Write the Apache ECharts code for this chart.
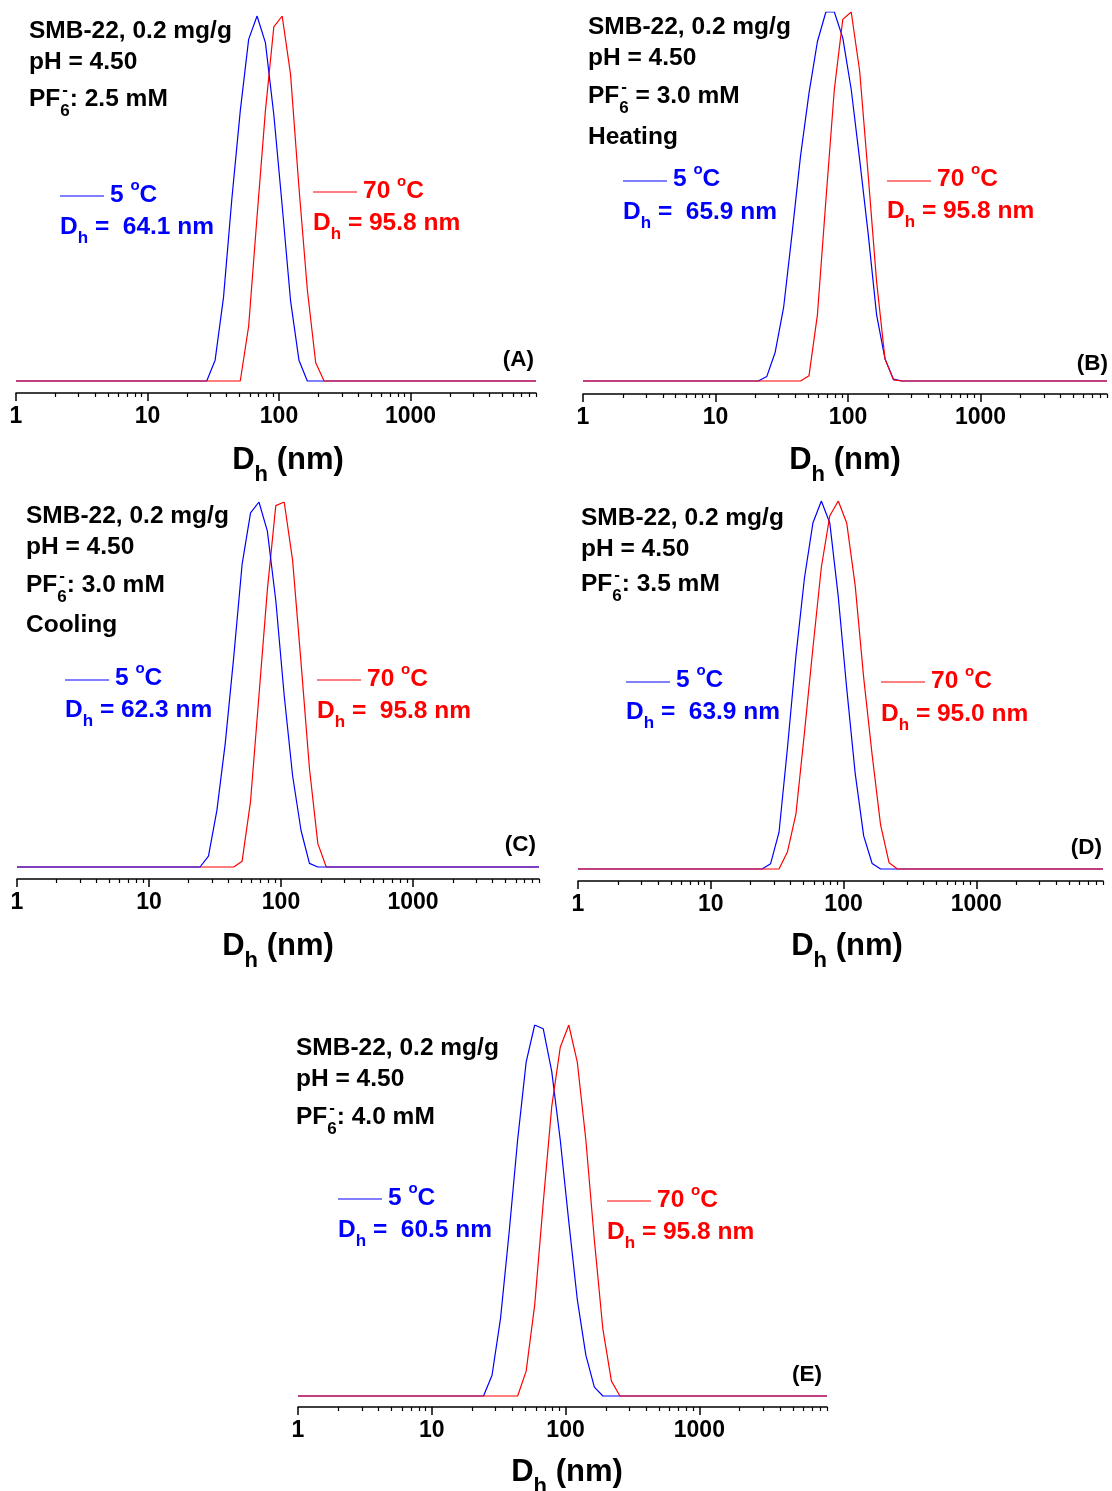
<!DOCTYPE html>
<html><head><meta charset="utf-8">
<script src="https://cdn.jsdelivr.net/npm/echarts@6/dist/echarts.min.js"></script>
<style>html,body{margin:0;padding:0;background:#fff;} #chart{width:1112px;height:1491px;}</style>
</head><body><div id="chart"></div>
<script>
// ---------- DATA ----------
// DLS size bins (nm) shared by all curves
const sizeBins = [21.04, 24.36, 28.21, 32.67, 37.84, 43.82, 50.75, 58.77, 68.06, 78.82, 91.28, 105.7, 122.4, 141.8, 164.2, 190.1, 220.2, 255.0];
const xMin = 1, xMax = 9000;
// relative intensity (% of peak)
const blueA = [0, 0, 0, 5.7, 22.9, 50, 74, 93.6, 100, 92.7, 73, 48, 22, 5.7, 0, 0, 0, 0];
const redA  = [0, 0, 0, 0, 0, 0, 0, 15, 45, 74, 97, 100, 84, 53, 25, 5, 0, 0];
const blueB = [0, 1.2, 7.8, 20, 40, 61, 78, 92, 100, 100, 93, 79, 60, 40, 18, 6, 0.5, 0];
const redB  = [0, 0, 0, 0, 0, 0, 1.4, 18, 49, 79, 98, 100, 84, 56, 27, 6, 0.3, 0];
const blueC = [0, 0, 3, 15.5, 34, 57.5, 83, 97, 100, 92, 73, 47, 25, 10, 1, 0, 0, 0];
const redC  = [0, 0, 0, 0, 0, 0, 1.6, 18, 47, 76, 99, 100, 84, 56, 27, 6.4, 0, 0];
const blueD = [0, 0, 1.4, 10, 33, 58, 79, 94, 100, 94, 74, 49, 26, 9, 1.5, 0, 0, 0];
const redD  = [0, 0, 0, 0, 4.7, 15, 37, 60, 82, 96, 100, 94, 77, 52, 31, 12, 1.7, 0];
const blueE = [0, 0, 5.6, 21, 44, 69, 90, 100, 99, 87.5, 69, 47, 26, 11, 2.4, 0, 0, 0];
const redE  = [0, 0, 0, 0, 0, 0, 6.7, 24.5, 52, 78, 94, 100, 90, 69, 42, 18, 4, 0];
const tickMajor = [1, 10, 100, 1000];
const tickMinor = [2,3,4,5,6,7,8,9,20,30,40,50,60,70,80,90,200,300,400,500,600,700,800,900,2000,3000,4000,5000,6000,7000,8000,9000];
const panelLetters = ['(A)', '(B)', '(C)', '(D)', '(E)'];
const pfValues = [': 2.5 mM', ' = 3.0 mM', ': 3.0 mM', ': 3.5 mM', ': 4.0 mM'];
const modeNotes = ['', 'Heating', 'Cooling', '', ''];
const blueDh = [' =  64.1 nm', ' =  65.9 nm', ' = 62.3 nm', ' =  63.9 nm', ' =  60.5 nm'];
const redDh  = [' = 95.8 nm', ' = 95.8 nm', ' =  95.8 nm', ' = 95.0 nm', ' = 95.8 nm'];
const blueSeries = [blueA, blueB, blueC, blueD, blueE];
const redSeries = [redA, redB, redC, redD, redE];

// ---------- LAYOUT ----------
const FONT = '"Liberation Sans", Arial, Helvetica, sans-serif';
const BLUE = '#0000ff', RED = '#ff0000';
const panels = [
  {left:16, width:520, top:16, axisY:393, base:381, tx:29, ty:[31,62,99], bx:60, bl:196, bt:195, bd:227, rx:313, rl:192, rt:191, rd:223, lr:534, ly:360, cx:288, cy:460, redTop:true},
  {left:583, width:524, top:12, axisY:394, base:381, tx:588, ty:[27,58,96,137], bx:623, bl:181, bt:179, bd:212, rx:887, rl:181, rt:179, rd:211, lr:1108, ly:364, cx:845, cy:460, redTop:true},
  {left:17, width:522, top:502, axisY:879, base:867, tx:26, ty:[516,547,585,625], bx:65, bl:680, bt:678, bd:710, rx:317, rl:680, rt:679, rd:711, lr:536, ly:845, cx:278, cy:946, redTop:false},
  {left:578, width:525, top:501, axisY:881, base:869, tx:581, ty:[518,549,584], bx:626, bl:682, bt:680, bd:712, rx:881, rl:682, rt:681, rd:714, lr:1102, ly:848, cx:847, cy:946, redTop:true},
  {left:298, width:529, top:1025, axisY:1407, base:1396, tx:296, ty:[1048,1079,1117], bx:338, bl:1199, bt:1198, bd:1230, rx:607, rl:1201, rt:1200, rd:1232, lr:822, ly:1375, cx:567, cy:1472, redTop:true}
];

// ---------- TEXT HELPERS ----------
const mctx = document.createElement('canvas').getContext('2d');
function measure(t, size){ mctx.font = 'bold ' + size + 'px ' + FONT; return mctx.measureText(t).width; }
function txt(t, x, y, size, color, align){
  return {type:'text', x:x, y:y, silent:true, z:100,
    style:{text:t, fill:color, fontSize:size, fontWeight:'bold', fontFamily:FONT, verticalAlign:'middle', align:align||'left'}};
}
// parts: [text, kind]; kind: 'n' | 'sub' | 'sup' | 'subsup' (text = [sub, sup])
function rich(parts, x, y, color, size, center){
  const subS = Math.round(size*0.7), supS = Math.round(size*0.62);
  const widths = parts.map(p => {
    if (p[1] === 'n') return measure(p[0], size);
    if (p[1] === 'sub') return measure(p[0], subS);
    if (p[1] === 'sup') return measure(p[0], supS);
    return Math.max(measure(p[0][0], subS), measure(p[0][1], subS));
  });
  const total = widths.reduce((a,b)=>a+b, 0);
  let cx = center ? x - total/2 : x;
  const out = [];
  parts.forEach((p, i) => {
    if (p[1] === 'n') out.push(txt(p[0], cx, y, size, color));
    else if (p[1] === 'sub') out.push(txt(p[0], cx, y + size*0.47, subS, color));
    else if (p[1] === 'sup') out.push(txt(p[0], cx, y - size*0.36, supS, color));
    else { out.push(txt(p[0][0], cx, y + size*0.5, subS, color)); out.push(txt(p[0][1], cx + 2, y - size*0.36, subS, color)); }
    cx += widths[i];
  });
  return out;
}
function seg(x1, x2, y, color){
  return {type:'line', silent:true, z:100, shape:{x1:x1, y1:y, x2:x2, y2:y}, style:{stroke:color, lineWidth:1.2}};
}

// ---------- BUILD ----------
function pts(vals){ return [[xMin, 0]].concat(sizeBins.map((s, i) => [s, vals[i]])).concat([[xMax, 0]]); }

const grids = [], xAxes = [], yAxes = [], series = [], graphics = [];
panels.forEach((p, i) => {
  grids.push({left:p.left, top:p.top, width:p.width, height:p.axisY - p.top, containLabel:false, outerBoundsMode:'none'});
  const common = {type:'log', logBase:10, gridIndex:i, min:xMin, max:xMax, position:'bottom', splitLine:{show:false}, minorTick:{show:false}, minorSplitLine:{show:false}};
  xAxes.push(Object.assign({}, common, {
    axisLine:{show:true, onZero:false, lineStyle:{color:'#000', width:1.5}},
    axisTick:{show:true, length:8, customValues:tickMajor, lineStyle:{color:'#000', width:1.5}},
    axisLabel:{show:true, customValues:tickMajor, margin:12, fontSize:23, fontWeight:'bold', color:'#000', fontFamily:FONT,
      formatter: v => String(Math.round(v))}
  }));
  xAxes.push(Object.assign({}, common, {
    axisLine:{show:false, onZero:false},
    axisTick:{show:true, length:4, customValues:tickMinor, lineStyle:{color:'#000', width:1.2}},
    axisLabel:{show:false}
  }));
  const yMin = -(p.axisY - p.base) / (p.base - p.top) * 100;
  yAxes.push({type:'value', gridIndex:i, min:yMin, max:100, show:false, splitLine:{show:false}});
  const b = {type:'line', name:'5 °C', xAxisIndex:2*i, yAxisIndex:i, data:pts(blueSeries[i]), showSymbol:false, symbol:'none',
    lineStyle:{color:BLUE, width:1.2}, itemStyle:{color:BLUE}, z: p.redTop ? 2 : 3};
  const r = {type:'line', name:'70 °C', xAxisIndex:2*i, yAxisIndex:i, data:pts(redSeries[i]), showSymbol:false, symbol:'none',
    lineStyle:{color:RED, width:1.2}, itemStyle:{color:RED}, z: p.redTop ? 3 : 2};
  series.push(b, r);

  // annotation block
  const S = 24.5;
  graphics.push(...rich([['SMB-22, 0.2 mg/g','n']], p.tx, p.ty[0], '#000', S));
  graphics.push(...rich([['pH = 4.50','n']], p.tx, p.ty[1], '#000', S));
  graphics.push(...rich([['PF','n'], [['6','-'],'subsup'], [pfValues[i],'n']], p.tx, p.ty[2], '#000', S));
  if (modeNotes[i]) graphics.push(...rich([[modeNotes[i],'n']], p.tx, p.ty[3], '#000', S));
  // legends
  graphics.push(seg(p.bx, p.bx + 44, p.bl, BLUE));
  graphics.push(...rich([['5 ','n'], ['o','sup'], ['C','n']], p.bx + 50, p.bt, BLUE, S));
  graphics.push(...rich([['D','n'], ['h','sub'], [blueDh[i],'n']], p.bx, p.bd, BLUE, S));
  graphics.push(seg(p.rx, p.rx + 44, p.rl, RED));
  graphics.push(...rich([['70 ','n'], ['o','sup'], ['C','n']], p.rx + 50, p.rt, RED, S));
  graphics.push(...rich([['D','n'], ['h','sub'], [redDh[i],'n']], p.rx, p.rd, RED, S));
  // panel letter
  graphics.push(txt(panelLetters[i], p.lr, p.ly, 22.5, '#000', 'right'));
  // axis title
  graphics.push(...rich([['D','n'], ['h','sub'], [' (nm)','n']], p.cx, p.cy, '#000', 31, true));
});

const chart = echarts.init(document.getElementById('chart'), null, {renderer:'canvas'});
chart.setOption({
  animation:false,
  backgroundColor:'#fff',
  grid:grids, xAxis:xAxes, yAxis:yAxes, series:series,
  graphic:{elements:graphics}
});
</script></body></html>
